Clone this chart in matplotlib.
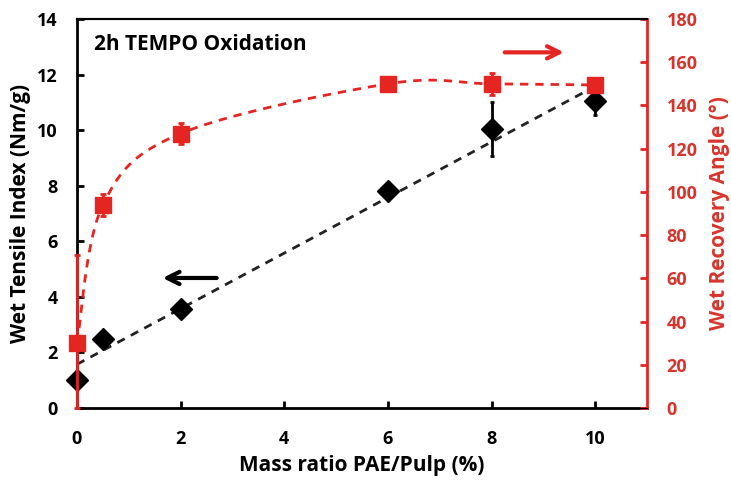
"""Wet tensile index and wet recovery angle vs PAE/pulp mass ratio (2h TEMPO oxidation)."""

import numpy as np
import matplotlib
matplotlib.use("Agg")
import matplotlib.pyplot as plt

plt.rcParams["font.family"] = ["Open Sans", "DejaVu Sans"]
plt.rcParams["font.weight"] = "bold"
plt.rcParams["axes.labelweight"] = "bold"

RED = "#e52521"
RED_TXT = "#d8342c"

# x values: mass ratio PAE/Pulp (%)
mass_ratio = [0, 0.5, 2, 6, 8, 10]
# left axis: wet tensile index (Nm/g)
tensile = [1.0, 2.5, 3.55, 7.8, 10.05, 11.05]
tensile_err = [0.1, 0.1, 0.1, 0.15, 0.97, 0.5]
# right axis: wet recovery angle (deg)
angle = [30, 94, 127, 150, 150, 149.5]
angle_err = [41, 5, 5, 2, 5, 2]


def smooth_curve(x, y, n=40):
    # Excel-style smoothed line: cubic Bezier segments through the points
    p = np.column_stack([x, y]).astype(float)
    ext = np.vstack([p[0], p, p[-1]])
    t = np.linspace(0, 1, n)[:, None]
    out = []
    for i in range(len(p) - 1):
        p0, p3 = ext[i + 1], ext[i + 2]
        c1 = p0 + (ext[i + 2] - ext[i]) / 6
        c2 = p3 - (ext[i + 3] - ext[i + 1]) / 6
        seg = ((1 - t) ** 3) * p0 + 3 * ((1 - t) ** 2) * t * c1 \
            + 3 * (1 - t) * t ** 2 * c2 + t ** 3 * p3
        out.append(seg)
    seg = np.vstack(out)
    return seg[:, 0], seg[:, 1]


fig = plt.figure(figsize=(7.31, 4.80), dpi=100)
ax = fig.add_axes([0.1053, 0.15, 0.7798, 0.8104])
ax2 = ax.twinx()

# tensile index: linear trendline + markers
k, b = np.polyfit(mass_ratio, tensile, 1)
xs = np.array([mass_ratio[0], mass_ratio[-1]])
ax.plot(xs, k * xs + b, color="#222222", lw=2, dashes=(3, 2.5), zorder=2)
ax.errorbar(mass_ratio, tensile, yerr=tensile_err, fmt="none", ecolor="black",
            elinewidth=2, capsize=1.5, capthick=2, zorder=3)
ax.plot(mass_ratio, tensile, "D", color="black", ms=11, zorder=4, clip_on=False)

# recovery angle: smoothed line + markers (error bars stop at the x axis)
cx, cy = smooth_curve(mass_ratio, angle)
ax2.plot(cx, cy, color=RED, lw=2, dashes=(3, 2.5), zorder=2)
low_err = np.minimum(angle_err, angle)
ax2.errorbar(mass_ratio, angle, yerr=[low_err, angle_err], fmt="none", ecolor=RED,
             elinewidth=2, capsize=2, capthick=2, zorder=3, clip_on=False)
ax2.plot(mass_ratio, angle, "s", color=RED, ms=12, zorder=4, clip_on=False)

ax.set_xlim(0, 11)
ax.set_ylim(0, 14)
ax2.set_ylim(0, 180)
ax.set_xticks(range(0, 11, 2))
ax.set_yticks(range(0, 15, 2))
ax2.set_yticks(range(0, 181, 20))

ax.tick_params(axis="both", direction="in", length=5, width=2, labelsize=13, pad=14)
ax.tick_params(axis="x", pad=16)
ax.tick_params(top=False)
ax2.tick_params(axis="y", direction="in", length=5, width=2, colors=RED,
                labelcolor=RED_TXT, labelsize=13, pad=14)

for s in ["left", "bottom"]:
    ax.spines[s].set_linewidth(2)
ax.spines["top"].set_linewidth(1.5)
ax2.spines["top"].set_linewidth(1.5)
ax2.spines["right"].set_color(RED)
ax2.spines["right"].set_linewidth(2)
ax2.spines["left"].set_visible(False)
ax.spines["right"].set_visible(False)

ax.set_xlabel("Mass ratio PAE/Pulp (%)", fontsize=15, labelpad=5)
ax.set_ylabel("Wet Tensile Index (Nm/g)", fontsize=15, labelpad=4)
ax2.set_ylabel("Wet Recovery Angle (°)", fontsize=15, color=RED_TXT, labelpad=8)

ax.text(0.03, 0.935, "2h TEMPO Oxidation", transform=ax.transAxes,
        fontsize=15, ha="left", va="center")

# arrows pointing at each series' axis
ax.annotate("", xy=(1.6, 4.68), xytext=(2.75, 4.68),
            arrowprops=dict(arrowstyle="->", color="black", lw=3, mutation_scale=22))
ax.annotate("", xy=(9.45, 12.8), xytext=(8.2, 12.8),
            arrowprops=dict(arrowstyle="->", color=RED, lw=3, mutation_scale=22))

fig.savefig("out.png", dpi=100)
